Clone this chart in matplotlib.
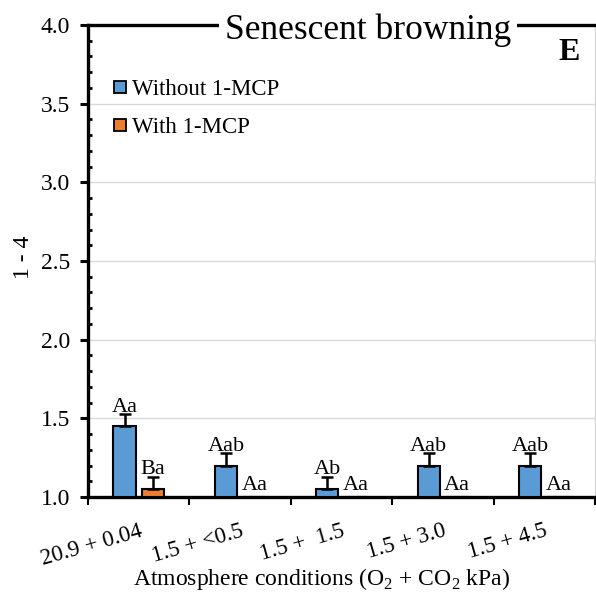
import matplotlib
matplotlib.use("Agg")
import matplotlib.pyplot as plt
from matplotlib.lines import Line2D
import numpy as np

categories = ["20.9 + 0.04", "1.5 + <0.5", "1.5 +  1.5", "1.5 + 3.0", "1.5 + 4.5"]
without_mcp = [1.45, 1.20, 1.05, 1.20, 1.20]
without_err = [0.08, 0.08, 0.08, 0.08, 0.08]
with_mcp = [1.05, 1.00, 1.00, 1.00, 1.00]
with_err = [0.08, 0.0, 0.0, 0.0, 0.0]
without_labels = ["Aa", "Aab", "Ab", "Aab", "Aab"]
with_labels = ["Ba", "Aa", "Aa", "Aa", "Aa"]
series_names = ["Without 1-MCP", "With 1-MCP"]
yticks = [1.0, 1.5, 2.0, 2.5, 3.0, 3.5, 4.0]

plt.rcParams['font.family'] = ['Liberation Serif', 'DejaVu Serif']
plt.rcParams['mathtext.fontset'] = 'custom'
plt.rcParams['mathtext.rm'] = 'Liberation Serif'

blue = "#5B9BD5"
orange = "#ED7D31"

fig = plt.figure(figsize=(5.96, 5.94), dpi=100)
ax = fig.add_axes([88/596, 1-497/594, (595-88)/596, (497-25)/594])

x = np.arange(len(categories))
w = 0.22
off = 0.14
base = 1.0

ax.bar(x - off, np.array(without_mcp) - base, w, bottom=base, color=blue,
       edgecolor='black', linewidth=1.5, zorder=3)
ax.bar(x + off, np.array(with_mcp) - base, w, bottom=base, color=orange,
       edgecolor='black', linewidth=1.5, zorder=3)

for xs, vals, errs in [(x - off, without_mcp, without_err), (x + off, with_mcp, with_err)]:
    for xi, v, e in zip(xs, vals, errs):
        if e > 0:
            ax.errorbar(xi, v, yerr=[[0], [e]], fmt='none', ecolor='black',
                        elinewidth=1.8, capsize=4, capthick=1.8, zorder=4)

for xs, vals, errs, labs in [(x - off, without_mcp, without_err, without_labels),
                             (x + off, with_mcp, with_err, with_labels)]:
    for xi, v, e, lab in zip(xs, vals, errs, labs):
        dy = 1.5 if e > 0 else 5
        ax.annotate(lab, (xi, v + e), xytext=(0, dy), textcoords='offset points',
                    ha='center', va='baseline', fontsize=16, zorder=5)

ax.set_xlim(-0.5, 4.5)
ax.set_ylim(1.0, 4.0)

ax.set_yticks(yticks)
ax.set_yticklabels([f"{t:.1f}" for t in yticks], fontsize=17)
ax.set_yticks(np.arange(1.0, 4.0001, 0.1), minor=True)
ax.tick_params(axis='y', which='major', direction='out', length=6, width=2.2, pad=7)
ax.tick_params(axis='y', which='minor', direction='in', length=3, width=2.0)

ax.set_xticks(np.arange(-0.5, 4.6, 1.0))
ax.set_xticklabels([""] * 6)
ax.tick_params(axis='x', which='major', direction='out', length=6, width=1.5)
ax.set_xticks(x, minor=True)
ax.set_xticklabels(categories, minor=True, rotation=16, ha='right',
                   rotation_mode='anchor', fontsize=16.5)
ax.tick_params(axis='x', which='minor', length=0, pad=17)

ax.grid(axis='y', which='major', color='#d9d9d9', linewidth=1.0, zorder=0)
ax.set_axisbelow(True)

for s in ['left', 'bottom', 'top']:
    ax.spines[s].set_linewidth(2.4)
ax.spines['right'].set_color('#d9d9d9')
ax.spines['right'].set_linewidth(1.0)

ax.set_ylabel("1 - 4", fontsize=17)
ax.yaxis.set_label_coords(-(88-34)/507, (497-257)/472)
ax.set_xlabel("Atmosphere conditions (O$_2$ + CO$_2$ kPa)", fontsize=17)
ax.xaxis.set_label_coords((322-88)/507, -(566-497)/472)

ax.text(368/596, 1-30/594, "Senescent browning", transform=fig.transFigure,
        ha='center', va='center', fontsize=25.5,
        bbox=dict(facecolor='white', edgecolor='none', pad=4), zorder=10)
ax.text(569/596, 1-52/594, "E", transform=fig.transFigure, ha='center',
        va='center', fontsize=23, fontweight='bold')

handles = [Line2D([], [], marker='s', ls='', markerfacecolor=c, markeredgecolor='black',
                  markersize=9, markeredgewidth=1.3) for c in (blue, orange)]
leg = ax.legend(handles, series_names, loc='upper left', bbox_to_anchor=(0.03, 0.905),
                frameon=False, fontsize=16.5, handlelength=0.7, handletextpad=0.15,
                labelspacing=0.75, borderaxespad=0.0)

fig.savefig("out.png", dpi=100)
